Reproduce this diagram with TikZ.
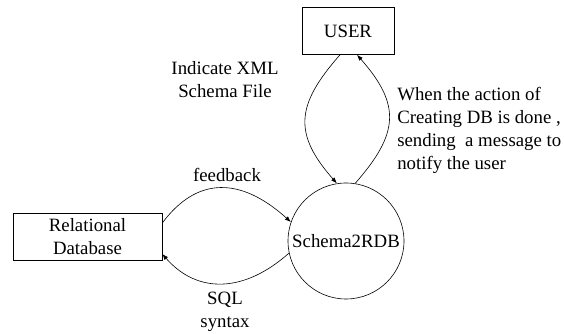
\documentclass[tikz,border=0pt]{standalone}
\usepackage{fontspec}
\setmainfont{Liberation Serif}
\usetikzlibrary{arrows.meta}

\begin{document}
\begin{tikzpicture}
  [x=1pt, y=1pt, line width=0.6pt,
   every node/.style={font=\fontsize{18.8}{23}\selectfont, inner sep=0pt},
   box/.style={draw, rectangle, minimum height=47pt, align=center},
   proc/.style={draw, circle, minimum size=116pt},
   flow/.style={-{Latex[length=6pt,width=4.5pt]}},
   note/.style={align=center}]
  \useasboundingbox (0,0) rectangle (564,334);
  \node[box, minimum width=92pt] (user) at (348,303) {USER};
  \node[box, minimum width=149pt] (rdb) at (87.5,97.5) {Relational\\Database};
  \node[proc] (s2r) at (346,93) {Schema2RDB};
  \node[note] (xml) at (225,254) {Indicate XML\\Schema File};
  \node[note] (fb) at (227,159) {feedback};
  \node[note] (sql) at (225,22) {SQL\\syntax};
  \node[note, align=left, anchor=west] (msg) at (397,204)
    {When the action of\\Creating DB is done ,\\sending\ \ a message to\\notify the user};
  \draw[flow] ([xshift=-8pt]user.south) .. controls +(-44,-50) and +(-44,50) .. (s2r.99);
  \draw[flow] (s2r.81) .. controls +(44,50) and +(44,-50) .. ([xshift=9pt]user.south);
  \draw[flow] ([yshift=13.5pt]rdb.east) .. controls +(35,47) and +(-50,45) .. (s2r.161);
  \draw[flow] (s2r.192) .. controls +(-45,-40) and +(35,-40) .. ([yshift=-17.5pt]rdb.east);
\end{tikzpicture}
\end{document}
